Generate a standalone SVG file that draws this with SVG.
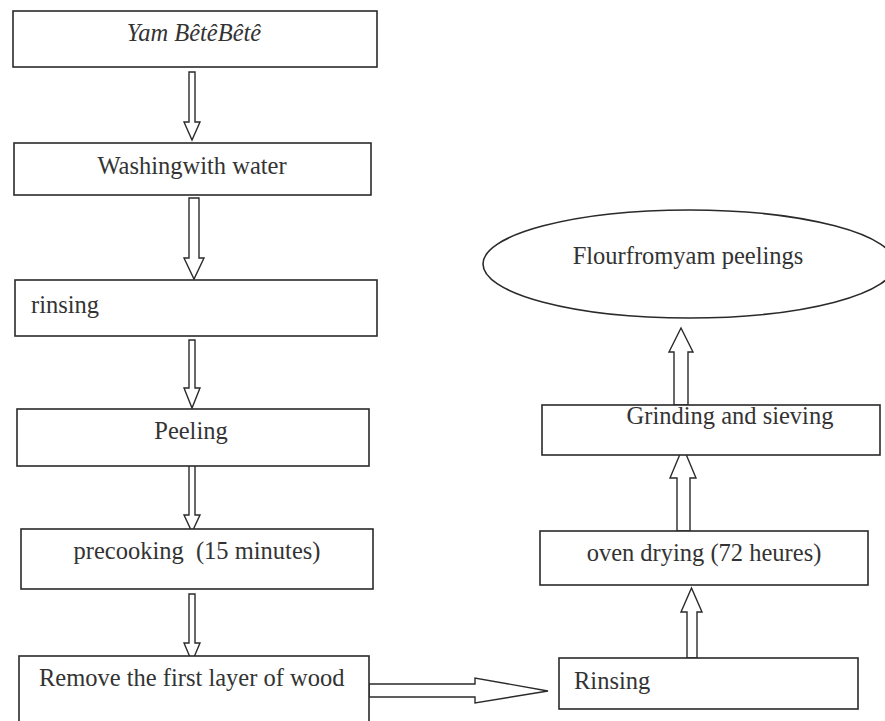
<svg xmlns="http://www.w3.org/2000/svg" width="885" height="721" viewBox="0 0 885 721">
<style>
.box{fill:#fff;stroke:#2a2a2a;stroke-width:1.6}
.arr{fill:#fff;stroke:#2a2a2a;stroke-width:1.4;stroke-linejoin:miter}
text{font-family:"Liberation Serif","Times New Roman",serif;font-size:24.5px;fill:#333}
.c{text-anchor:middle}
</style>
<rect width="885" height="721" fill="#fff"/>
<g id="connectors">
<polygon class="arr" points="189,72 195,72 195,122 200,122 192,140 184,122 189,122"/>
<polygon class="arr" points="189,198 199,198 199,258 204,258 194,279 184,258 189,258"/>
<polygon class="arr" points="189,340 195,340 195,388 200,388 192,408 184,388 189,388"/>
<polygon class="arr" points="189,464 195,464 195,515 200,515 192,532 184,515 189,515"/>
<polygon class="arr" points="189,594 195,594 195,643 200,643 192,662 184,643 189,643"/>
<polygon class="arr" points="369,684 475,684 475,678 548,691 475,703 475,697 369,697"/>
<polygon class="arr" points="687,658 687,612 681,612 691.5,588 702,612 697,612 697,658"/>
<polygon class="arr" points="677,531 677,478 670,478 683,447 696,478 690,478 690,531"/>
<polygon class="arr" points="674,405 674,352 669,352 681,328 693,352 688,352 688,405"/>
</g>
<g id="n1"><rect class="box" x="13" y="11" width="364" height="56"/><text class="c" x="194" y="41" font-style="italic">Yam BêtêBêtê</text></g>
<g id="n2"><rect class="box" x="14" y="143" width="357" height="52"/><text class="c" x="192" y="174">Washingwith water</text></g>
<g id="n3"><rect class="box" x="15" y="280" width="362" height="56"/><text x="31" y="313">rinsing</text></g>
<g id="n4"><rect class="box" x="17" y="409" width="352" height="57"/><text class="c" x="191" y="439">Peeling</text></g>
<g id="n5"><rect class="box" x="21" y="529" width="352" height="60"/><text class="c" x="197" y="559" xml:space="preserve">precooking  (15 minutes)</text></g>
<g id="n6"><rect class="box" x="19" y="656" width="350" height="72"/><text x="39" y="686">Remove the first layer of wood</text></g>
<g id="n7"><rect class="box" x="559" y="658" width="299" height="51"/><text x="574" y="689">Rinsing</text></g>
<g id="n8"><rect class="box" x="540" y="531" width="328" height="54"/><text class="c" x="704" y="561">oven drying (72 heures)</text></g>
<g id="n9"><rect class="box" x="542" y="405" width="338" height="50"/><text class="c" x="730" y="424">Grinding and sieving</text></g>
<g id="n10"><ellipse class="box" cx="689" cy="264" rx="206" ry="54"/><text class="c" x="688" y="264">Flourfromyam peelings</text></g>
</svg>
